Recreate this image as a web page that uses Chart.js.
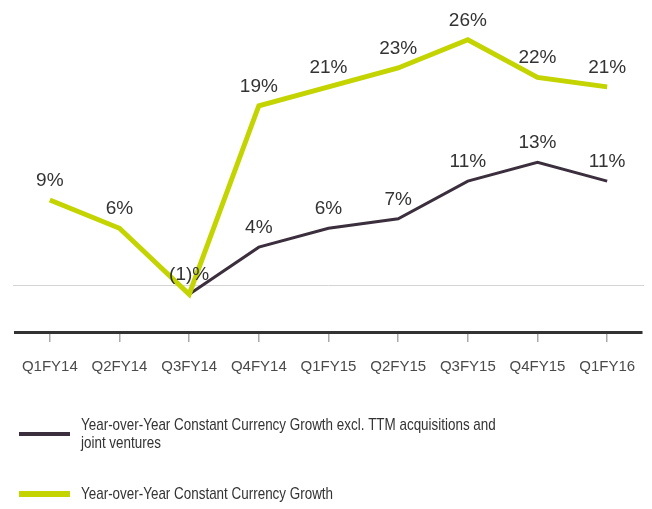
<!DOCTYPE html>
<html lang="en">
<head>
  <meta charset="UTF-8">
  <title>YoY Constant Currency Growth</title>
  <script src="https://cdn.jsdelivr.net/npm/chart.js@4.4.1/dist/chart.umd.min.js"></script>
  <style>
    html, body { margin: 0; padding: 0; background: #fff; }
    #wrap { width: 652px; height: 509px; }
  </style>
</head>
<body>
<div id="wrap"><canvas id="myChart"></canvas></div>
<script>
  // data
  var quarters = ['Q1FY14', 'Q2FY14', 'Q3FY14', 'Q4FY14', 'Q1FY15', 'Q2FY15', 'Q3FY15', 'Q4FY15', 'Q1FY16'];
  var totalGrowth = [9, 6, -1, 19, 21, 23, 26, 22, 21];
  var exclAcqGrowth = [null, null, -1, 4, 6, 7, 11, 13, 11];
  var totalLabel = 'Year-over-Year Constant Currency Growth';
  var exclLabel = 'Year-over-Year Constant Currency Growth excl. TTM acquisitions and\njoint ventures';

  var GREEN = '#c3d400';
  var DARK = '#3b2f3d';

  var fmt = function(v){ return v < 0 ? '(' + (-v) + ')%' : v + '%'; };

  // zero line, value labels, bottom legend
  var extras = {
    id: 'extras',
    beforeDatasetsDraw: function(chart){
      var c = chart.ctx, y = chart.scales.y, a = chart.chartArea;
      var py = Math.round(y.getPixelForValue(0)) + 0.5;
      c.save();
      c.strokeStyle = '#d4d4d4';
      c.lineWidth = 1;
      c.beginPath(); c.moveTo(a.left - 2, py); c.lineTo(a.right + 2, py); c.stroke();
      c.restore();
    },
    afterDatasetsDraw: function(chart){
      var c = chart.ctx;
      var done = {};
      c.save();
      c.font = '19px "Liberation Sans", Arial, sans-serif';
      c.fillStyle = '#333';
      c.textAlign = 'center';
      c.textBaseline = 'alphabetic';
      chart.data.datasets.forEach(function(ds, di){
        var meta = chart.getDatasetMeta(di);
        ds.data.forEach(function(v, i){
          if (v === null) return;
          var key = i + ':' + v;
          if (done[key]) return;
          done[key] = true;
          var pt = meta.data[i];
          c.fillText(fmt(v), pt.x, pt.y - 14);
        });
      });
      c.restore();
    },
    afterDraw: function(chart){
      var c = chart.ctx;
      var items = chart.data.datasets.slice().reverse();
      var rows = [434, 494];
      c.save();
      c.font = '17px "Liberation Sans", Arial, sans-serif';
      c.fillStyle = '#333';
      c.textAlign = 'left';
      c.textBaseline = 'middle';
      items.forEach(function(ds, k){
        var y0 = rows[k];
        c.strokeStyle = ds.borderColor;
        c.lineWidth = k === 0 ? 4 : 6;
        c.beginPath(); c.moveTo(19, y0); c.lineTo(70, y0); c.stroke();
        ds.label.split('\n').forEach(function(line, j){
          var ty = y0 - 9 + j * 18 + (k === 1 ? 9 : 0);
          // the original legend uses a narrow face, squeeze it
          c.save();
          c.translate(81, ty);
          c.scale(0.79, 1);
          c.fillText(line, 0, 0);
          c.restore();
        });
      });
      c.restore();
    }
  };

  var ctx = document.getElementById('myChart').getContext('2d');
  var myChart = new Chart(ctx, {
    type: 'line',
    data: {
      labels: quarters,
      datasets: [
        {
          label: totalLabel,
          data: totalGrowth,
          borderColor: GREEN,
          backgroundColor: GREEN,
          borderWidth: 5,
          pointRadius: 0,
          tension: 0,
          borderJoinStyle: 'miter'
        },
        {
          label: exclLabel,
          data: exclAcqGrowth,
          borderColor: DARK,
          backgroundColor: DARK,
          borderWidth: 3,
          pointRadius: 0,
          tension: 0,
          spanGaps: false
        }
      ]
    },
    options: {
      responsive: true,
      maintainAspectRatio: false,
      animation: false,
      events: [],
      layout: { padding: { left: 15, right: 10, top: 2, bottom: 117 } },
      plugins: { legend: { display: false }, tooltip: { enabled: false } },
      scales: {
        x: {
          offset: true,
          grid: { offset: false, drawOnChartArea: false, drawTicks: true, tickLength: 10, color: '#aaa', lineWidth: 1.5 },
          border: { display: true, color: '#333', width: 3 },
          ticks: { color: '#4a4a4a', padding: 16, font: { family: '"Liberation Sans", Arial, sans-serif', size: 15 }, maxRotation: 0, autoSkip: false }
        },
        y: {
          display: false,
          min: -5,
          max: 30
        }
      }
    },
    plugins: [extras]
  });
</script>
</body>
</html>
